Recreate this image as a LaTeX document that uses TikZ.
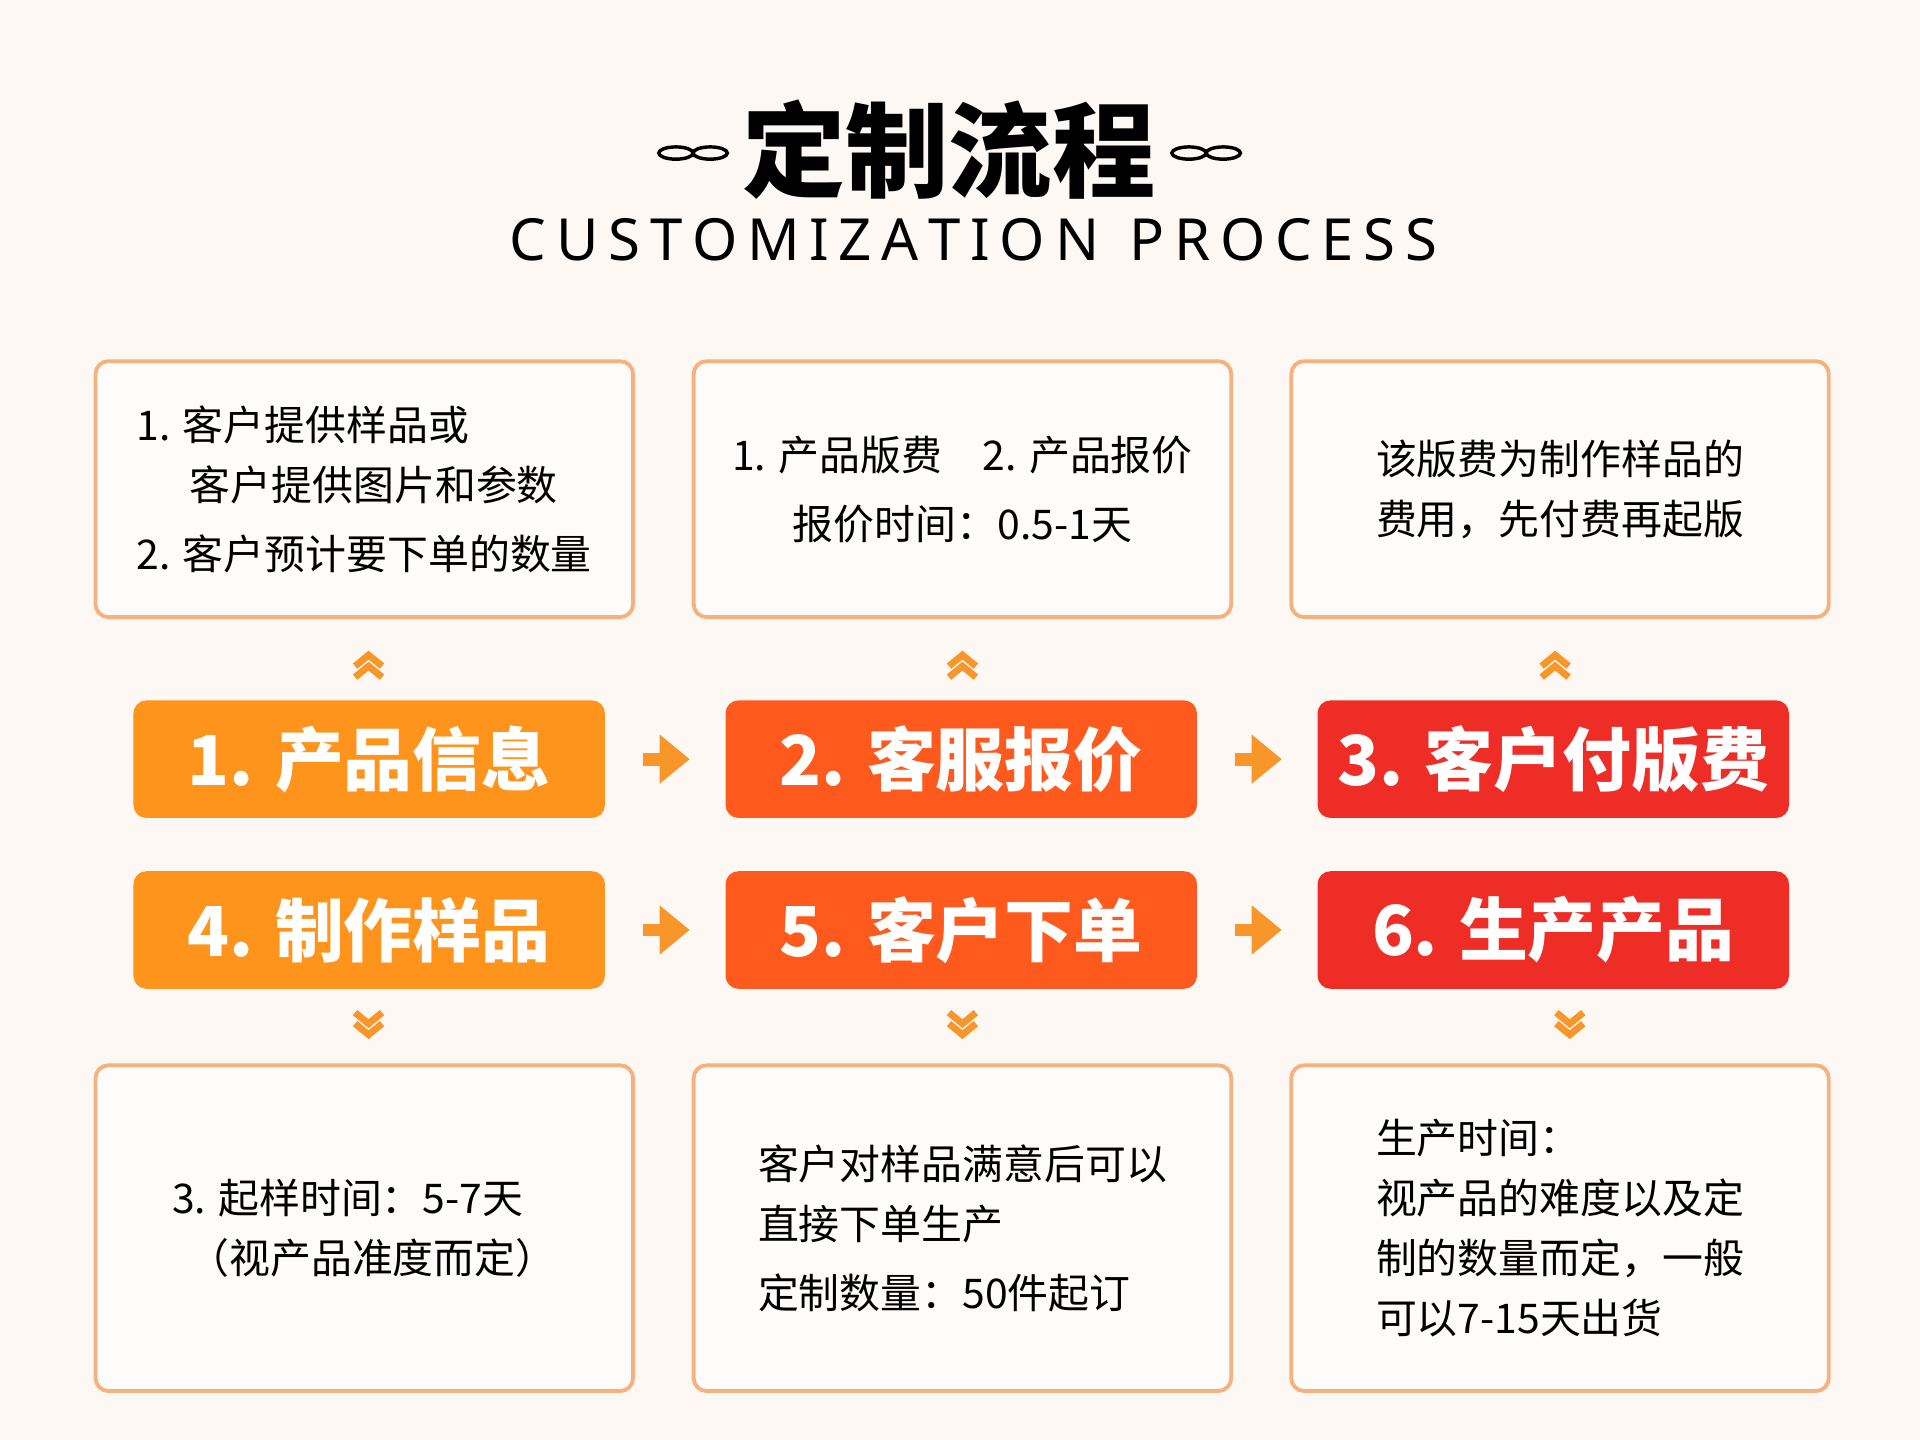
\documentclass[tikz,border=0pt]{standalone}
\usepackage{fontspec}
\setmainfont{Noto Sans CJK SC}
\newfontfamily\latinsans{Noto Sans}
\usetikzlibrary{arrows.meta,positioning}
\definecolor{bgcol}{HTML}{FDF8F4}
\definecolor{framecol}{HTML}{F5B27E}
\definecolor{stepA}{HTML}{FF941C}
\definecolor{stepB}{HTML}{FF5A1E}
\definecolor{stepC}{HTML}{EE2D26}
\definecolor{arrcol}{HTML}{F8962A}
\tikzset{
  infobox/.style={draw=framecol, line width=0.9pt, rounded corners=3pt, fill=white, fill opacity=0.6, text opacity=1,
    minimum width=4.39cm, minimum height=2.09cm, font=\fontsize{9.5}{14}\selectfont, align=left},
  tallbox/.style={infobox, minimum height=2.66cm},
  stepbtn/.style={rounded corners=3pt, minimum width=3.85cm, minimum height=0.96cm, text=white,
    font=\fontsize{16}{18}\selectfont\bfseries},
  flow/.style={draw=arrcol, line width=3pt, -{Triangle[length=7pt,width=11pt]}, shorten >=1pt},
  chev/.style={draw=arrcol, line width=1.6pt}
}
\newcommand{\upchev}[1]{\draw[chev] ($(#1)+(-0.11,-0.04)$) -- ++(0.11,0.09) -- ++(0.11,-0.09);
  \draw[chev] ($(#1)+(-0.11,-0.13)$) -- ++(0.11,0.09) -- ++(0.11,-0.09);}
\newcommand{\downchev}[1]{\draw[chev] ($(#1)+(-0.11,0.13)$) -- ++(0.11,-0.09) -- ++(0.11,0.09);
  \draw[chev] ($(#1)+(-0.11,0.04)$) -- ++(0.11,-0.09) -- ++(0.11,0.09);}
\usetikzlibrary{calc}
\begin{document}
\begin{tikzpicture}
\fill[bgcol] (0,0) rectangle (15.68,-11.76);
\useasboundingbox (0,0) rectangle (15.68,-11.76);
% title
\node (title) at (7.75,-1.22) {\fontsize{24}{26}\selectfont\bfseries 定制流程};
\node (subtitle) at (7.95,-1.96) {\latinsans\fontsize{13.5}{15}\selectfont C\,U\,S\,T\,O\,M\,I\,Z\,A\,T\,I\,O\,N\ \ P\,R\,O\,C\,E\,S\,S};
\foreach \cx in {5.66,9.85}{
  \draw[line width=0.8pt] (\cx-0.14,-1.25) ellipse (0.14 and 0.05);
  \draw[line width=0.8pt] (\cx+0.14,-1.25) ellipse (0.14 and 0.05);
}
% info boxes
\node[infobox] (info1) at (2.975,-3.995) {1. 客户提供样品或\\\hspace{1.3em}客户提供图片和参数\\[2pt]2. 客户预计要下单的数量};
\node[infobox, align=center] (info2) at (7.86,-3.995) {1. 产品版费\quad 2. 产品报价\\[2pt]报价时间：0.5-1天};
\node[infobox, align=center] (info3) at (12.74,-3.995) {该版费为制作样品的\\费用，先付费再起版};
\node[tallbox] (info4) at (2.975,-10.03) {3. 起样时间：5-7天\\\hspace{0.4em}（视产品准度而定）};
\node[tallbox] (info5) at (7.86,-10.03) {客户对样品满意后可以\\直接下单生产\\[2pt]定制数量：50件起订};
\node[tallbox] (info6) at (12.74,-10.03) {生产时间：\\视产品的难度以及定\\制的数量而定，一般\\可以7-15天出货};
% steps
\node[stepbtn, fill=stepA] (step1) at (3.015,-6.2) {1. 产品信息};
\node[stepbtn, fill=stepB] (step2) at (7.85,-6.2) {2. 客服报价};
\node[stepbtn, fill=stepC] (step3) at (12.685,-6.2) {3. 客户付版费};
\node[stepbtn, fill=stepA] (step4) at (3.015,-7.595) {4. 制作样品};
\node[stepbtn, fill=stepB] (step5) at (7.85,-7.595) {5. 客户下单};
\node[stepbtn, fill=stepC] (step6) at (12.685,-7.595) {6. 生产产品};
\draw[flow] ([xshift=0.3cm]step1.east) -- ([xshift=-0.25cm]step2.west);
\draw[flow] ([xshift=0.3cm]step2.east) -- ([xshift=-0.25cm]step3.west);
\draw[flow] ([xshift=0.3cm]step4.east) -- ([xshift=-0.25cm]step5.west);
\draw[flow] ([xshift=0.3cm]step5.east) -- ([xshift=-0.25cm]step6.west);
% chevrons
\coordinate (up1) at (3.01,-5.40); \coordinate (up2) at (7.86,-5.40); \coordinate (up3) at (12.70,-5.40);
\coordinate (dn1) at (3.01,-8.40); \coordinate (dn2) at (7.86,-8.40); \coordinate (dn3) at (12.82,-8.40);
\upchev{up1} \upchev{up2} \upchev{up3}
\downchev{dn1} \downchev{dn2} \downchev{dn3}
\end{tikzpicture}
\end{document}
